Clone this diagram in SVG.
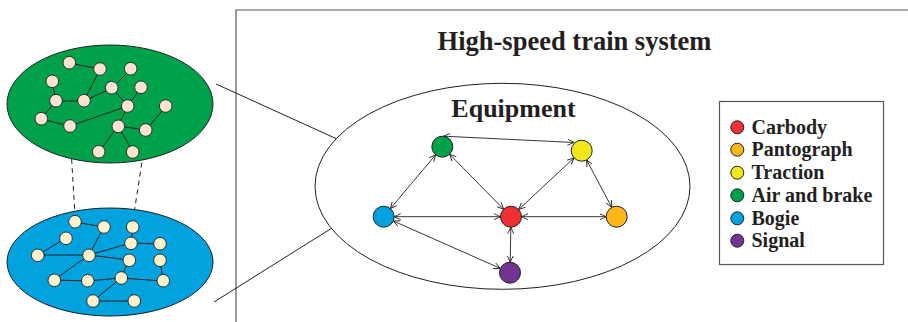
<svg xmlns="http://www.w3.org/2000/svg" width="908" height="322" viewBox="0 0 908 322">
<style>
.t{font-family:"Liberation Serif","Times New Roman",serif;font-weight:bold;fill:#231f20}
.e{stroke:#231f20;stroke-width:1}
.gn{fill:#fde4d2;stroke:#231f20;stroke-width:0.9}
.bn{fill:#fff2cc;stroke:#231f20;stroke-width:0.9}
.ln{stroke:#231f20;stroke-width:1}
.ar{stroke:#231f20;stroke-width:0.9;fill:none;marker-start:url(#ah);marker-end:url(#ah)}
.nd{stroke:#231f20;stroke-width:1}
</style>
<defs>
<marker id="ah" viewBox="0 0 8 8" refX="7.5" refY="4" markerWidth="7" markerHeight="7" markerUnits="userSpaceOnUse" orient="auto-start-reverse">
<path d="M0,0.5 L7.5,4 L0,7.5" fill="none" stroke="#231f20" stroke-width="1"/>
</marker>
</defs>
<rect width="908" height="322" fill="#fff"/>
<path d="M908,10 H236 V322" fill="none" stroke="#555" stroke-width="1.2"/>
<text class="t" x="574.5" y="50" font-size="26.5" text-anchor="middle">High-speed train system</text>

<g id="links">
<line class="ln" x1="216" y1="84" x2="337" y2="139"/>
<line class="ln" x1="214" y1="302" x2="332" y2="228"/>
<line class="ln" x1="70" y1="132" x2="75" y2="215" stroke-dasharray="5,4"/>
<line class="ln" x1="146" y1="136" x2="133" y2="220" stroke-dasharray="5,4"/>
</g>

<g id="green-network">
<ellipse cx="110" cy="104" rx="103" ry="59" style="fill:#00a14b" class="e"/>
<g class="ln">
<line x1="69" y1="63" x2="100" y2="69"/>
<line x1="100" y1="69" x2="84" y2="101"/>
<line x1="84" y1="101" x2="56" y2="101"/>
<line x1="52" y1="81" x2="56" y2="101"/>
<line x1="56" y1="101" x2="41" y2="119"/>
<line x1="41" y1="119" x2="70" y2="126"/>
<line x1="70" y1="126" x2="128" y2="106"/>
<line x1="84" y1="101" x2="112" y2="88"/>
<line x1="112" y1="88" x2="131" y2="69"/>
<line x1="112" y1="88" x2="128" y2="106"/>
<line x1="128" y1="106" x2="141" y2="87"/>
<line x1="128" y1="106" x2="118" y2="126"/>
<line x1="118" y1="126" x2="99" y2="152"/>
<line x1="118" y1="126" x2="133" y2="152"/>
<line x1="118" y1="126" x2="146" y2="130"/>
<line x1="146" y1="130" x2="166" y2="106"/>
</g>
<circle id="gn1" class="gn" cx="69.3" cy="62.7" r="6.3"/>
<circle id="gn2" class="gn" cx="100" cy="69" r="6.3"/>
<circle id="gn3" class="gn" cx="130.7" cy="68.7" r="6.3"/>
<circle id="gn4" class="gn" cx="52.3" cy="81.3" r="6.3"/>
<circle id="gn5" class="gn" cx="111.7" cy="87.7" r="6.3"/>
<circle id="gn6" class="gn" cx="141" cy="87.3" r="6.3"/>
<circle id="gn7" class="gn" cx="56" cy="100.7" r="6.3"/>
<circle id="gn8" class="gn" cx="84" cy="100.7" r="6.3"/>
<circle id="gn9" class="gn" cx="127.7" cy="106" r="6.3"/>
<circle id="gn10" class="gn" cx="165.7" cy="106" r="6.3"/>
<circle id="gn11" class="gn" cx="41.3" cy="118.7" r="6.3"/>
<circle id="gn12" class="gn" cx="70" cy="126" r="6.3"/>
<circle id="gn13" class="gn" cx="118.3" cy="126.3" r="6.3"/>
<circle id="gn14" class="gn" cx="145.7" cy="130" r="6.3"/>
<circle id="gn15" class="gn" cx="98.7" cy="151.7" r="6.3"/>
<circle id="gn16" class="gn" cx="132.7" cy="152" r="6.3"/>
</g>

<g id="blue-network">
<ellipse cx="110" cy="262" rx="103" ry="54" style="fill:#00a3dd" class="e"/>
<g class="ln">
<line x1="75" y1="222" x2="104" y2="227"/>
<line x1="104" y1="227" x2="89" y2="255"/>
<line x1="66" y1="238" x2="38" y2="255"/>
<line x1="38" y1="255" x2="89" y2="255"/>
<line x1="89" y1="255" x2="131" y2="243"/>
<line x1="131" y1="243" x2="133" y2="227"/>
<line x1="131" y1="243" x2="160" y2="244"/>
<line x1="89" y1="255" x2="129" y2="260"/>
<line x1="129" y1="260" x2="121" y2="278"/>
<line x1="89" y1="255" x2="54" y2="280"/>
<line x1="54" y1="280" x2="88" y2="281"/>
<line x1="88" y1="281" x2="121" y2="278"/>
<line x1="121" y1="278" x2="163" y2="281"/>
<line x1="160" y1="260" x2="163" y2="281"/>
<line x1="121" y1="278" x2="93" y2="301"/>
<line x1="93" y1="301" x2="134" y2="301"/>
</g>
<circle id="bn1" class="bn" cx="75" cy="221.7" r="6.3"/>
<circle id="bn2" class="bn" cx="104" cy="227" r="6.3"/>
<circle id="bn3" class="bn" cx="132.7" cy="227" r="6.3"/>
<circle id="bn4" class="bn" cx="66" cy="238.3" r="6.3"/>
<circle id="bn5" class="bn" cx="131" cy="243.3" r="6.3"/>
<circle id="bn6" class="bn" cx="160" cy="243.7" r="6.3"/>
<circle id="bn7" class="bn" cx="37.7" cy="255.3" r="6.3"/>
<circle id="bn8" class="bn" cx="89" cy="255.3" r="6.3"/>
<circle id="bn9" class="bn" cx="129.3" cy="260.3" r="6.3"/>
<circle id="bn10" class="bn" cx="160" cy="260.3" r="6.3"/>
<circle id="bn11" class="bn" cx="54.3" cy="280.3" r="6.3"/>
<circle id="bn12" class="bn" cx="87.7" cy="280.7" r="6.3"/>
<circle id="bn13" class="bn" cx="121.3" cy="278" r="6.3"/>
<circle id="bn14" class="bn" cx="163.3" cy="280.7" r="6.3"/>
<circle id="bn15" class="bn" cx="93" cy="301" r="6.3"/>
<circle id="bn16" class="bn" cx="134.3" cy="301" r="6.3"/>
</g>

<g id="equipment">
<ellipse cx="502.5" cy="186.3" rx="187.5" ry="103" style="fill:#fff" class="e"/>
<text class="t" x="513.5" y="116.5" font-size="26" text-anchor="middle">Equipment</text>
</g>

<g id="connectors">
<line class="ar" x1="443.5" y1="136.2" x2="574" y2="142.5"/>
<line class="ar" x1="435.6" y1="154.8" x2="390.4" y2="208.6"/>
<line class="ar" x1="449.6" y1="154.2" x2="503.6" y2="209.2"/>
<line class="ar" x1="574" y1="157.9" x2="518.7" y2="209.5"/>
<line class="ar" x1="586.6" y1="160" x2="611.8" y2="207.4"/>
<line class="ar" x1="394.2" y1="216.7" x2="500.5" y2="216.7"/>
<line class="ar" x1="521.5" y1="216.7" x2="606.2" y2="216.7"/>
<line class="ar" x1="510.8" y1="227.2" x2="510.2" y2="262.2"/>
<line class="ar" x1="393.3" y1="221" x2="500.4" y2="268.4"/>
</g>

<g id="node-airbrake"><circle class="nd" cx="442.3" cy="146.7" r="10.5" fill="#00a14b"/></g>
<g id="node-traction"><circle class="nd" cx="581.7" cy="150.7" r="10.5" fill="#f0e81c"/></g>
<g id="node-bogie"><circle class="nd" cx="383.7" cy="216.7" r="10.5" fill="#00a3e0"/></g>
<g id="node-carbody"><circle class="nd" cx="511" cy="216.7" r="10.5" fill="#ee3035"/></g>
<g id="node-pantograph"><circle class="nd" cx="616.7" cy="216.7" r="10.5" fill="#fbb617"/></g>
<g id="node-signal"><circle class="nd" cx="510" cy="272.7" r="10.5" fill="#743592"/></g>

<g id="legend">
<rect x="719.5" y="101.5" width="164" height="163" fill="#fff" stroke="#555" stroke-width="1.2"/>
<circle class="nd" cx="737.3" cy="127.3" r="6.5" fill="#ee3035"/>
<circle class="nd" cx="737.3" cy="149.7" r="6.5" fill="#fbb617"/>
<circle class="nd" cx="737.3" cy="172.7" r="6.5" fill="#f0e81c"/>
<circle class="nd" cx="737.3" cy="195.3" r="6.5" fill="#00a14b"/>
<circle class="nd" cx="737.3" cy="218.3" r="6.5" fill="#00a3e0"/>
<circle class="nd" cx="737.3" cy="240.7" r="6.5" fill="#743592"/>
<g class="t" font-size="20">
<text x="751.5" y="133.5">Carbody</text>
<text x="751.5" y="156">Pantograph</text>
<text x="751.5" y="179">Traction</text>
<text x="751.5" y="201.5">Air and brake</text>
<text x="751.5" y="224.5">Bogie</text>
<text x="751.5" y="247">Signal</text>
</g>
</g>
</svg>
